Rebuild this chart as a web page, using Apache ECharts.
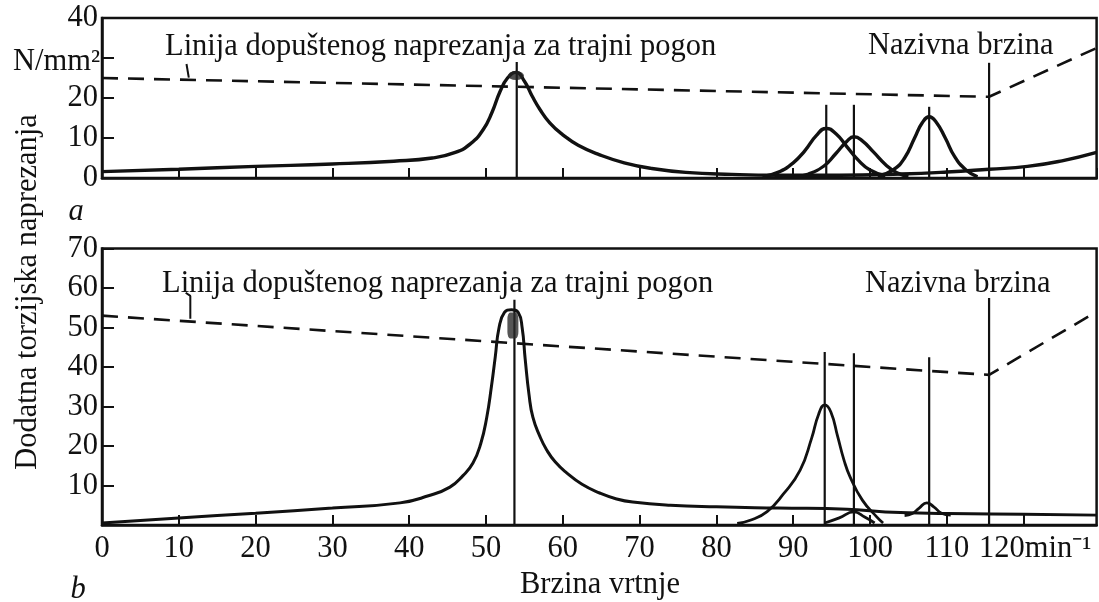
<!DOCTYPE html>
<html><head><meta charset="utf-8">
<script src="https://cdn.jsdelivr.net/npm/echarts@6/dist/echarts.min.js"></script>
<style>html,body{margin:0;padding:0;background:#fff}#c{width:1099px;height:602px}</style>
</head><body><div id="c"></div>
<script>
// ---- data ----
const xTickLabels = ['0','10','20','30','40','50','60','70','80','90','100','110','120'];
const yTicksA = [0,10,20,30,40];
const yTicksB = [0,10,20,30,40,50,60,70];
// allowable stress line (dashed)
const allowA = [[0,25],[115.5,20.3],[129.5,32.5]];
const allowB = [[0,53],[115.5,38],[129.5,54]];
// panel a: base curve with resonance at ~54
const curveA = [[0,1.6],[10,2.2],[20,2.9],[30,3.5],[38,4.2],[43,5.0],[46,6.4],[48,8.6],[49.6,12],[50.8,16.5],[51.8,21.5],[52.8,25],[53.9,26.4],[55,24.2],[56,20.5],[57,17.2],[58.3,13.8],[60,10.8],[62,8.2],[64.8,5.8],[68,3.8],[71.5,2.4],[76,1.4],[82,0.9],[88,0.7],[96,0.7],[104,1.0],[110,1.5],[115.5,2.2],[120.5,2.9],[125,4.3],[129.5,6.4]];
const peakA1 = [[86,0.3],[88,1.4],[90,3.8],[91.5,6.8],[93,10.6],[94.3,12.4],[95.6,11],[97,7.8],[98.5,4.4],[100,2],[102,0.5]];
const peakA2 = [[90,0.2],[92,1],[94,3],[95.5,6],[97,9.2],[97.9,10.3],[99,9.3],[100.5,6.4],[102,3.4],[103.5,1.3],[105,0.4]];
const peakA3 = [[101,0.4],[103,2],[104.5,5],[105.8,10],[106.8,13.8],[107.7,15.3],[108.6,14],[109.8,10],[111,5.4],[112.5,2],[114,0.3]];
const blobA = [[53.9,25.6]];
// panel b
const curveB = [[0,0.5],[10,1.8],[20,3],[30,4.3],[38.8,5.6],[42.5,7.4],[45.3,9.6],[47,12.5],[48.3,15.7],[49.3,20.5],[50.1,27.3],[50.7,35],[51.2,42.5],[51.7,50],[52.4,53.8],[53.3,54.5],[54.2,53.8],[54.7,50],[55.1,42],[55.6,33],[56.1,27.3],[57,22.5],[57.9,19],[59,16],[60.5,13.2],[62.5,10.3],[64.8,8.1],[67,6.6],[69.1,5.8],[74,5.0],[80,4.6],[88,4.3],[97,4.0],[102,3.3],[110,2.9],[120,2.7],[129.5,2.5]];
const peakB1 = [[82.7,0.4],[84.4,1.2],[86.6,3.4],[88.7,7.8],[90.9,13.9],[92.4,22],[93.3,28],[94.1,30.4],[94.9,28.6],[95.8,22.3],[96.6,16.5],[97.4,12.2],[99,6.3],[100.9,2],[101.7,0.5]];
const peakB2 = [[94.1,0.5],[96,1.8],[97.9,3.3],[99.3,2],[100.6,0.5]];
const peakB3 = [[104.5,2.4],[105.5,2.9],[106.4,4.3],[107.4,5.6],[108.3,4.6],[109.3,3],[110.5,2.5]];
const blobB = [[53.5,50.5]];
// vertical marker lines: [x, top]
const vertA = [[54,29],[94.3,18.3],[97.9,18.3],[107.7,17.8],[115.5,28.8]];
const vertB = [[53.7,57],[94.1,43.8],[97.9,43.5],[107.7,42.5],[115.5,57.5]];
const leaderA = [[11.0,28.5],[11.3,25.1]];
const leaderB = [[10.9,58.8],[11.5,58],[11.5,52.2]];

// ---- chart ----
const FONT = 'Liberation Serif';
const FS = 30.5;
const INK = '#111';
const chart = echarts.init(document.getElementById('c'));
const XMAX = 129.5;
const baseX = (gi, showLabels) => ({
  type:'value', gridIndex:gi, min:0, max:XMAX, interval:10,
  axisLine:{show:true, lineStyle:{color:INK, width:2.5}},
  axisTick:{show:true, inside:true, length:10, lineStyle:{color:INK, width:2}},
  splitLine:{show:false},
  axisLabel:{show:showLabels, showMaxLabel:false, hideOverlap:false, margin:8, color:INK, fontFamily:FONT, fontSize:FS,
    formatter: v => {
      const i = xTickLabels.indexOf(String(v));
      if (i < 0) return '';
      if (v === 120) return '{n|120}{u|min⁻¹}';
      return xTickLabels[i];
    },
    rich:{n:{fontFamily:FONT, fontSize:FS, color:INK, padding:[0,0,0,23]}, u:{fontFamily:FONT, fontSize:FS, color:INK}}
  }
});
const baseY = (gi, max, hide) => ({
  type:'value', gridIndex:gi, min:0, max:max, interval:10,
  axisLine:{show:true, lineStyle:{color:INK, width:2.5}},
  axisTick:{show:true, inside:true, length:12, lineStyle:{color:INK, width:2}},
  splitLine:{show:false},
  axisLabel:{margin:4, color:INK, fontFamily:FONT, fontSize:FS,
    formatter: v => (hide.indexOf(v) >= 0 ? '' : String(v))}
});
const lineS = (gi, data, w, extra) => Object.assign({
  type:'line', xAxisIndex:gi, yAxisIndex:gi, data:data, symbol:'none', silent:true,
  lineStyle:{color:INK, width:w}, z:3
}, extra||{});
const series = [];
series.push(lineS(0, allowA, 2.6, {lineStyle:{color:INK, width:2.6, type:[16,10]}}));
series.push(lineS(1, allowB, 2.6, {lineStyle:{color:INK, width:2.6, type:[16,10]}}));
series.push(lineS(0, leaderA, 2));
series.push(lineS(1, leaderB, 2));
vertA.forEach(v => series.push(lineS(0, [[v[0],0],[v[0],v[1]]], 2.2)));
vertB.forEach(v => series.push(lineS(1, [[v[0],0],[v[0],v[1]]], 2.2)));
const sm = {smooth:0.5};
series.push(lineS(0, curveA, 3.4, sm));
[peakA1, peakA2, peakA3].forEach(p => series.push(lineS(0, p, 3.4, sm)));
series.push(lineS(1, curveB, 3, sm));
[peakB1, peakB2, peakB3].forEach(p => series.push(lineS(1, p, 2.8, sm)));
series.push({type:'scatter', xAxisIndex:0, yAxisIndex:0, data:blobA, symbol:'circle', symbolSize:[16,9], itemStyle:{color:'#222'}, silent:true, z:4});
series.push({type:'scatter', xAxisIndex:1, yAxisIndex:1, data:blobB, symbol:'roundRect', symbolSize:[11,26], itemStyle:{color:'#2a2a2a'}, silent:true, z:4});

const txt = (text, x, y, align, italic, extra) => Object.assign({
  type:'text', x:x, y:y, silent:true,
  style:{text:text, font:(italic?'italic ':'') + FS + 'px "Liberation Serif"', fill:INK, textAlign:align||'left', textVerticalAlign:'middle', verticalAlign:'middle'}
}, extra||{});

chart.setOption({
  animation:false,
  backgroundColor:'#fff',
  grid:[
    {left:102, top:18, width:994.6, height:160, show:true, borderColor:INK, borderWidth:2.5, backgroundColor:'transparent', outerBoundsMode:'none', containLabel:false},
    {left:102, top:248.5, width:994.6, height:276.5, show:true, borderColor:INK, borderWidth:2.5, backgroundColor:'transparent', outerBoundsMode:'none', containLabel:false}
  ],
  xAxis:[baseX(0,false), baseX(1,true)],
  yAxis:[baseY(0,40,[30]), baseY(1,70,[0])],
  series:series,
  graphic:[
    txt('Linija dopuštenog naprezanja za trajni pogon', 165, 47),
    txt('Nazivna brzina', 868, 46),
    txt('N/mm²', 13, 62),
    txt('Linija dopuštenog naprezanja za trajni pogon', 162, 284),
    txt('Nazivna brzina', 865, 284),
    txt('Brzina vrtnje', 600, 585, 'center'),
    txt('a', 76, 212, 'center', true),
    txt('b', 78, 590, 'center', true),
    txt('Dodatna torzijska naprezanja', 28, 292, 'center', false, {rotation:Math.PI/2})
  ]
});
</script></body></html>
